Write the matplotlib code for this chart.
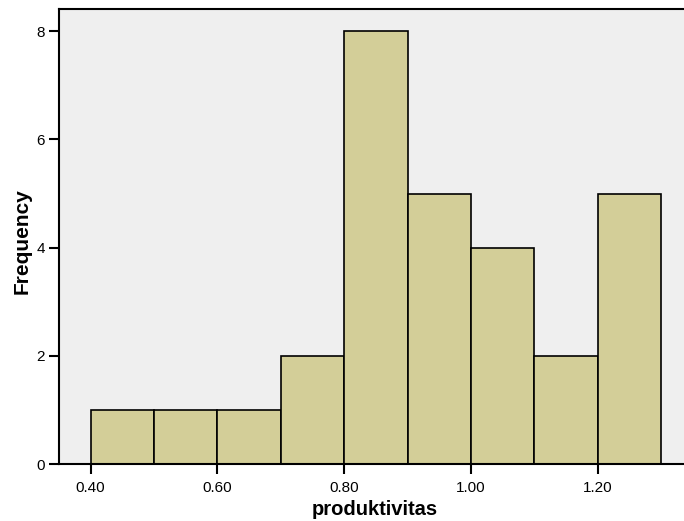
import matplotlib
matplotlib.use("Agg")
import matplotlib.pyplot as plt

bin_edges = [0.40, 0.50, 0.60, 0.70, 0.80, 0.90, 1.00, 1.10, 1.20, 1.30]
frequencies = [1, 1, 1, 2, 8, 5, 4, 2, 5]
x_ticks = [0.40, 0.60, 0.80, 1.00, 1.20]
x_tick_labels = ["0.40", "0.60", "0.80", "1.00", "1.20"]
y_ticks = [0, 2, 4, 6, 8]

plt.rcParams['font.family'] = ['Liberation Sans', 'DejaVu Sans']

W, H = 684, 521
fig = plt.figure(figsize=(W / 100, H / 100), dpi=100)
left, right, top, bottom = 59, 684, 8.5, 464
ax = fig.add_axes([left / W, 1 - bottom / H, (right - left) / W, (bottom - top) / H])
ax.set_facecolor("#EFEFEF")

lefts = bin_edges[:-1]
widths = [b - a for a, b in zip(bin_edges[:-1], bin_edges[1:])]
ax.bar(lefts, frequencies, width=widths, align="edge", color="#D3CE98",
       edgecolor="black", linewidth=1.2, zorder=2)

ax.set_xlim(0.3502, 1.336)
ax.set_ylim(0, 8.42)
ax.set_xticks(x_ticks)
ax.set_xticklabels(x_tick_labels)
ax.set_yticks(y_ticks)
ax.tick_params(axis="both", direction="out", length=7, width=1.5, labelsize=11, pad=3)
ax.tick_params(axis="x", pad=5)

for s in ["left", "bottom", "top"]:
    ax.spines[s].set_linewidth(1.5)
ax.spines["right"].set_visible(False)

fig.text(375 / W, 1 - 515 / H, "produktivitas", fontsize=14.5, fontweight="bold",
         ha="center", va="baseline")
fig.text(22 / W, 1 - 241 / H, "Frequency", fontsize=15, fontweight="bold",
         ha="center", va="center", rotation=90)

fig.savefig("out.png", dpi=100)
